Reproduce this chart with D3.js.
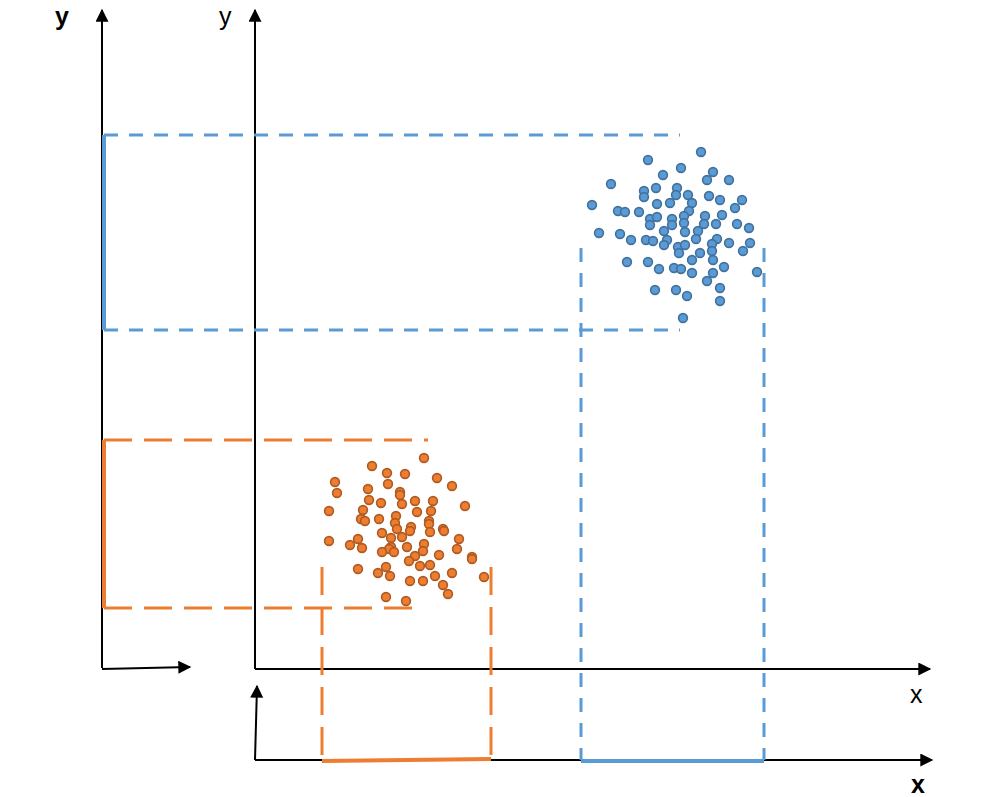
<!DOCTYPE html>
<html>
<head>
<meta charset="utf-8">
<script src="https://cdn.jsdelivr.net/npm/d3@7"></script>
<style>
  body { margin: 0; background: #fff; }
  svg { display: block; }
</style>
</head>
<body>
<div id="chart"></div>
<script>
// cluster points (x, y) in chart units, origin at the main axes
const bluePoints = [
  [446,517],[393,509],[426,501],[458,497],[408,494],[452,489],[474,489],[356,485],
  [389,478],[401,481],[422,481],[389,472],[421,474],[433,474],[454,473],[465,469],
  [487,469],[337,464],[402,465],[415,466],[437,466],[480,461],[363,458],[370,457],
  [384,457],[434,458],[395,450],[402,452],[417,450],[429,453],[450,453],[467,454],
  [395,444],[417,444],[429,446],[449,445],[461,445],[482,445],[494,441],[344,436],
  [365,435],[409,438],[430,437],[443,438],[376,429],[391,429],[398,428],[412,429],
  [441,430],[462,430],[474,426],[495,426],[409,424],[423,422],[430,424],[457,425],
  [488,418],[424,416],[445,416],[457,418],[372,407],[393,407],[437,409],[458,409],
  [404,400],[419,401],[426,400],[469,402],[437,396],[458,396],[502,397],[452,388],
  [400,379],[421,379],[465,381],[432,373],[465,368],[428,351]
];
const orangePoints = [
  [169,211],[117,203],[132,196],[150,195],[182,191],[80,187],[197,183],[82,176],
  [133,185],[113,180],[145,177],[145,174],[114,169],[126,166],[147,165],[160,168],
  [178,168],[210,163],[74,158],[108,159],[162,157],[176,158],[141,153],[106,150],
  [110,148],[124,150],[140,146],[174,148],[174,145],[142,140],[156,142],[155,138],
  [175,137],[188,140],[189,138],[127,136],[74,128],[103,130],[136,131],[147,132],
  [204,130],[95,124],[107,121],[169,125],[136,122],[134,120],[139,117],[152,122],
  [168,118],[202,120],[127,117],[160,113],[184,114],[217,112],[217,110],[154,108],
  [165,103],[175,104],[103,100],[131,102],[123,96],[135,93],[180,93],[197,96],
  [229,92],[155,88],[168,88],[188,84],[193,75],[131,72],[151,68]
];

// projected spans of each cluster
const blueSpanX = [326, 509];
const blueSpanY = [339, 534];
const orangeSpanX = [67, 236];
const orangeSpanY = [61, 229];
// how far the dashed guides reach: [top guide end x, bottom guide end x, vertical guide start y]
const blueReach = [425, 425, 421];
const orangeReach = [173, 162, 102];

// axis extents
const xMax = 675, yMax = 659;
const sideAxisX = -153;   // extra y axis on the left
const lowAxisY = -91;     // extra x axis below

const width = 997, height = 797;
const blue = "#5B9BD5", blueEdge = "#41719C";
const orange = "#ED7D31", orangeEdge = "#AE5A21";

const x = d3.scaleLinear().domain([0, xMax]).range([255, 930]);
const y = d3.scaleLinear().domain([0, yMax]).range([669, 10]);

const svg = d3.select("#chart").append("svg")
    .attr("width", width)
    .attr("height", height);

svg.append("defs").append("marker")
    .attr("id", "arrow")
    .attr("viewBox", "0 0 10 10")
    .attr("refX", 9).attr("refY", 5)
    .attr("markerUnits", "userSpaceOnUse")
    .attr("markerWidth", 15).attr("markerHeight", 13)
    .attr("orient", "auto")
    .append("path")
    .attr("d", "M0,0L10,5L0,10Z")
    .attr("fill", "#000");

const line = d3.line().x(d => x(d[0])).y(d => y(d[1]));

// axes
const axes = [
  [[0, 0], [0, yMax]],                       // main y
  [[0, 0], [xMax, 0]],                       // main x
  [[sideAxisX, 1], [sideAxisX, yMax]],       // left y
  [[sideAxisX, 0], [-65, 2]],                // left stub x
  [[0, lowAxisY], [677, lowAxisY]],          // lower x
  [[0, lowAxisY], [2, -17]]                  // lower stub y
];
svg.append("g").selectAll("path")
    .data(axes)
    .join("path")
    .attr("d", line)
    .attr("fill", "none")
    .attr("stroke", "#000")
    .attr("stroke-width", 2)
    .attr("marker-end", "url(#arrow)");

// dashed guides and solid projections
function guides(spanX, spanY, reach, color, dash, tilt) {
  const g = svg.append("g").attr("fill", "none").attr("stroke", color);
  const dashed = [
    [[sideAxisX + 2, spanY[1]], [reach[0], spanY[1]]],
    [[sideAxisX + 2, spanY[0]], [reach[1], spanY[0]]],
    [[spanX[0], reach[2]], [spanX[0], lowAxisY]],
    [[spanX[1], reach[2]], [spanX[1], lowAxisY]]
  ];
  g.selectAll("path.dash")
    .data(dashed)
    .join("path")
    .attr("class", "dash")
    .attr("d", line)
    .attr("stroke-width", 3)
    .attr("stroke-dasharray", dash);
  const solid = [
    [[sideAxisX + 2, spanY[0]], [sideAxisX + 2, spanY[1]]],
    [[spanX[0], lowAxisY - 1], [spanX[1], lowAxisY - 1 + tilt]]
  ];
  g.selectAll("path.solid")
    .data(solid)
    .join("path")
    .attr("class", "solid")
    .attr("d", line)
    .attr("stroke-width", 4);
}
guides(blueSpanX, blueSpanY, blueReach, blue, "14,11", 0);
guides(orangeSpanX, orangeSpanY, orangeReach, orange, "28,12", 2);

// points
function cloud(points, fill, edge) {
  svg.append("g").selectAll("circle")
    .data(points)
    .join("circle")
    .attr("cx", d => x(d[0]))
    .attr("cy", d => y(d[1]))
    .attr("r", 4.4)
    .attr("fill", fill)
    .attr("stroke", edge)
    .attr("stroke-width", 1.6);
}
cloud(bluePoints, blue, blueEdge);
cloud(orangePoints, orange, orangeEdge);

// labels
const labels = [
  {t: "y", px: sideAxisX - 47, py: yMax - 15, bold: true},
  {t: "y", px: -36, py: yMax - 15, bold: false},
  {t: "x", px: 655, py: -34, bold: false},
  {t: "x", px: 656, py: -124, bold: true}
];
svg.append("g").selectAll("text")
    .data(labels)
    .join("text")
    .attr("x", d => x(d.px))
    .attr("y", d => y(d.py))
    .attr("font-family", "Liberation Sans, Arial, sans-serif")
    .attr("font-size", 25)
    .attr("font-weight", d => d.bold ? "bold" : "normal")
    .attr("fill", "#000")
    .text(d => d.t);
</script>
</body>
</html>
